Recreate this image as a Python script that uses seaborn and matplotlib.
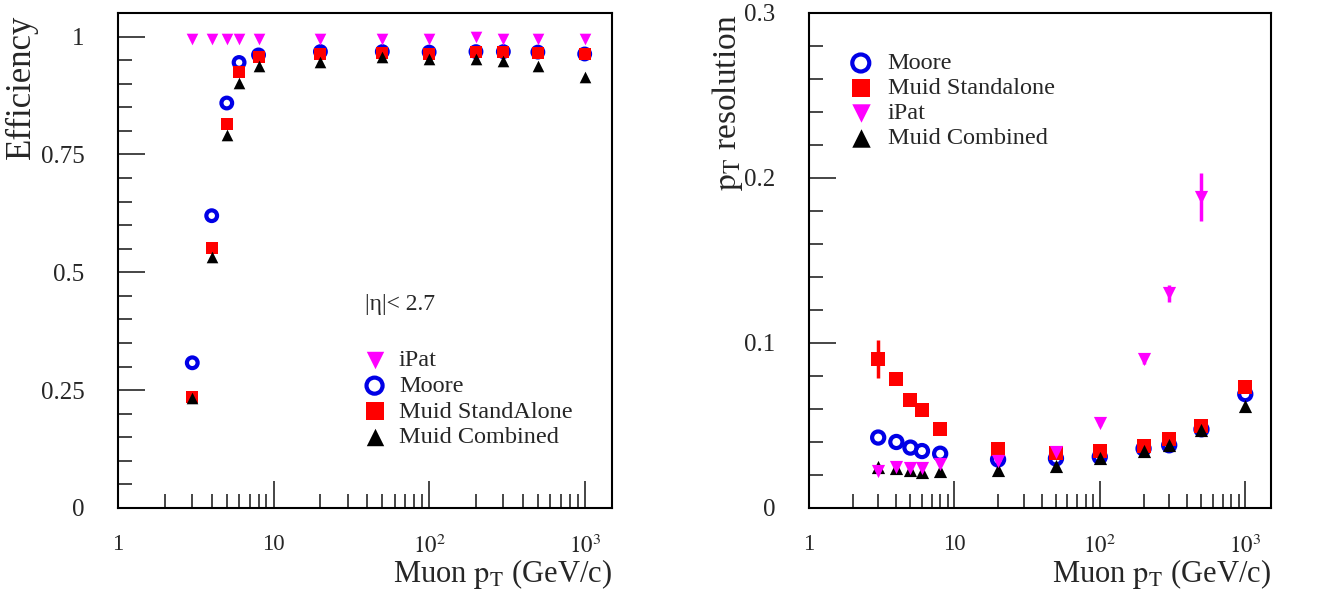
import numpy as np
import seaborn as sns
import matplotlib.pyplot as plt
from matplotlib.ticker import FixedLocator, LogLocator, NullFormatter, FixedFormatter

# Muon pT points (GeV/c)
pt = [3, 4, 5, 6, 8, 20, 50, 100, 200, 300, 500, 1000]
pt_ipat_res = [3, 4, 5, 6, 8, 20, 50, 100, 200, 300, 500]

# Efficiency (left panel)
eff_ipat = [0.995, 0.995, 0.995, 0.995, 0.995, 0.995, 0.995, 0.995, 0.998, 0.995, 0.995, 0.995]
eff_moore = [0.308, 0.62, 0.859, 0.945, 0.961, 0.968, 0.968, 0.967, 0.968, 0.968, 0.967, 0.963]
eff_standalone = [0.236, 0.552, 0.815, 0.924, 0.956, 0.963, 0.965, 0.963, 0.967, 0.967, 0.965, 0.963]
eff_combined = [0.233, 0.533, 0.791, 0.902, 0.938, 0.945, 0.956, 0.953, 0.953, 0.949, 0.938, 0.915]

# pT resolution (right panel)
res_moore = [0.0427, 0.040, 0.0366, 0.0345, 0.0329, 0.0294, 0.030, 0.031, 0.036, 0.038, 0.0477, 0.069]
res_standalone = [0.0904, 0.0782, 0.0654, 0.0593, 0.0477, 0.0355, 0.0335, 0.0345, 0.0376, 0.042, 0.0498, 0.0732]
res_standalone_err = [0.0117, 0.003, 0.001, 0, 0, 0, 0, 0, 0, 0, 0.001, 0.002]
res_ipat = [0.0223, 0.0248, 0.024, 0.024, 0.0264, 0.0284, 0.034, 0.0518, 0.0904, 0.130, 0.1884]
res_ipat_err = [0, 0, 0, 0, 0, 0, 0, 0.002, 0.003, 0.005, 0.0147]
res_combined = [0.025, 0.0244, 0.0229, 0.0217, 0.0223, 0.0229, 0.0254, 0.0305, 0.0345, 0.038, 0.0473, 0.062]

sns.set_style('white')
plt.rcParams['font.family'] = ['Liberation Serif', 'DejaVu Serif']
plt.rcParams['mathtext.fontset'] = 'stix'

blue = '#0000e6'
red = '#ff0000'
magenta = '#ff00ff'
black = '#000000'

fig = plt.figure(figsize=(13.28, 5.9), dpi=100)
ax1 = fig.add_axes([0.0889, 0.139, 0.372, 0.839])
ax2 = fig.add_axes([0.609, 0.139, 0.348, 0.839])


def draw(ax, x, y, kind, label, size):
    if kind == 'moore':
        sns.scatterplot(x=x, y=y, ax=ax, marker='o', s=size * 0.85, facecolor='none',
                        edgecolor=blue, linewidth=3, label=label, zorder=3)
    elif kind == 'standalone':
        sns.scatterplot(x=x, y=y, ax=ax, marker='s', s=size, color=red,
                        edgecolor=red, linewidth=0, label=label, zorder=4)
    elif kind == 'ipat':
        sns.scatterplot(x=x, y=y, ax=ax, marker='v', s=size, color=magenta,
                        edgecolor=magenta, linewidth=0, label=label, zorder=5)
    else:
        sns.scatterplot(x=x, y=y, ax=ax, marker='^', s=size, color=black,
                        edgecolor=black, linewidth=0, label=label, zorder=4)


# Left: efficiency
draw(ax1, pt, eff_moore, 'moore', 'Moore', 70)
draw(ax1, pt, eff_standalone, 'standalone', 'Muid StandAlone', 70)
draw(ax1, pt, eff_combined, 'combined', 'Muid Combined', 70)
draw(ax1, pt, eff_ipat, 'ipat', 'iPat', 70)

# Right: resolution
ax2.errorbar(pt, res_standalone, yerr=res_standalone_err, fmt='none', ecolor=red, elinewidth=2.5, zorder=2)
ax2.errorbar(pt_ipat_res, res_ipat, yerr=res_ipat_err, fmt='none', ecolor=magenta, elinewidth=2.5, zorder=2)
draw(ax2, pt, res_moore, 'moore', 'Moore', 90)
draw(ax2, pt, res_standalone, 'standalone', 'Muid Standalone', 90)
draw(ax2, pt_ipat_res, res_ipat, 'ipat', 'iPat', 90)
draw(ax2, pt, res_combined, 'combined', 'Muid Combined', 90)

for ax in (ax1, ax2):
    ax.set_xscale('log')
    ax.set_xlim(1, 1500)
    ax.xaxis.set_major_locator(FixedLocator([1, 10, 100, 1000]))
    ax.xaxis.set_major_formatter(FixedFormatter(['1', '10', '$10^{2}$', '$10^{3}$']))
    ax.xaxis.set_minor_locator(LogLocator(base=10, subs=np.arange(2, 10), numticks=20))
    ax.xaxis.set_minor_formatter(NullFormatter())
    ax.tick_params(axis='both', which='major', direction='in', length=19.5, width=1.2,
                   top=False, right=False, left=True, bottom=True)
    ax.tick_params(axis='both', which='minor', direction='in', length=10, width=1.2,
                   top=False, right=False, left=True, bottom=True)
    ax.tick_params(axis='x', which='major', labelsize=16.5, pad=19)
    ax.tick_params(axis='y', which='major', labelsize=18, pad=24)
    for sp in ax.spines.values():
        sp.set_visible(True)
        sp.set_color('black')
        sp.set_linewidth(1.5)
    ax.set_xlabel('Muon $\\mathrm{p}_{\\mathrm{T}}$ (GeV/c)', fontsize=22, loc='right')
    ax.xaxis.set_label_coords(1.0, -0.1)

ax1.set_ylim(0, 1.05)
ax1.yaxis.set_major_locator(FixedLocator([0, 0.25, 0.5, 0.75, 1.0]))
ax1.yaxis.set_major_formatter(FixedFormatter(['0', '0.25', '0.5', '0.75', '1']))
ax1.yaxis.set_minor_locator(FixedLocator(np.arange(0, 1.05, 0.05)))
ax1.set_ylabel('Efficiency', fontsize=25, loc='top')
ax1.yaxis.set_label_coords(-0.163, 0.996)

ax2.set_ylim(0, 0.3)
ax2.yaxis.set_major_locator(FixedLocator([0, 0.1, 0.2, 0.3]))
ax2.yaxis.set_major_formatter(FixedFormatter(['0', '0.1', '0.2', '0.3']))
ax2.yaxis.set_minor_locator(FixedLocator(np.arange(0, 0.3, 0.02)))
ax2.set_ylabel('$\\mathrm{p}_{\\mathrm{T}}$ resolution', fontsize=24, loc='top')
ax2.yaxis.set_label_coords(-0.138, 0.996)

# Legends
h1, l1 = ax1.get_legend_handles_labels()
order1 = ['iPat', 'Moore', 'Muid StandAlone', 'Muid Combined']
ax1.legend([h1[l1.index(n)] for n in order1], order1, loc='upper left',
           bbox_to_anchor=(0.47, 0.345), frameon=False, fontsize=17.5, markerscale=1.5,
           handlelength=1.0, handletextpad=0.5, labelspacing=0.15, borderpad=0)
ax1.text(0.5, 0.4, '|η|< 2.7', transform=ax1.transAxes, fontsize=17)

h2, l2 = ax2.get_legend_handles_labels()
order2 = ['Moore', 'Muid Standalone', 'iPat', 'Muid Combined']
ax2.legend([h2[l2.index(n)] for n in order2], order2, loc='upper left',
           bbox_to_anchor=(0.06, 0.945), frameon=False, fontsize=17.5, markerscale=1.4,
           handlelength=1.0, handletextpad=0.6, labelspacing=0.12, borderpad=0)

fig.savefig('out.png', dpi=100)
